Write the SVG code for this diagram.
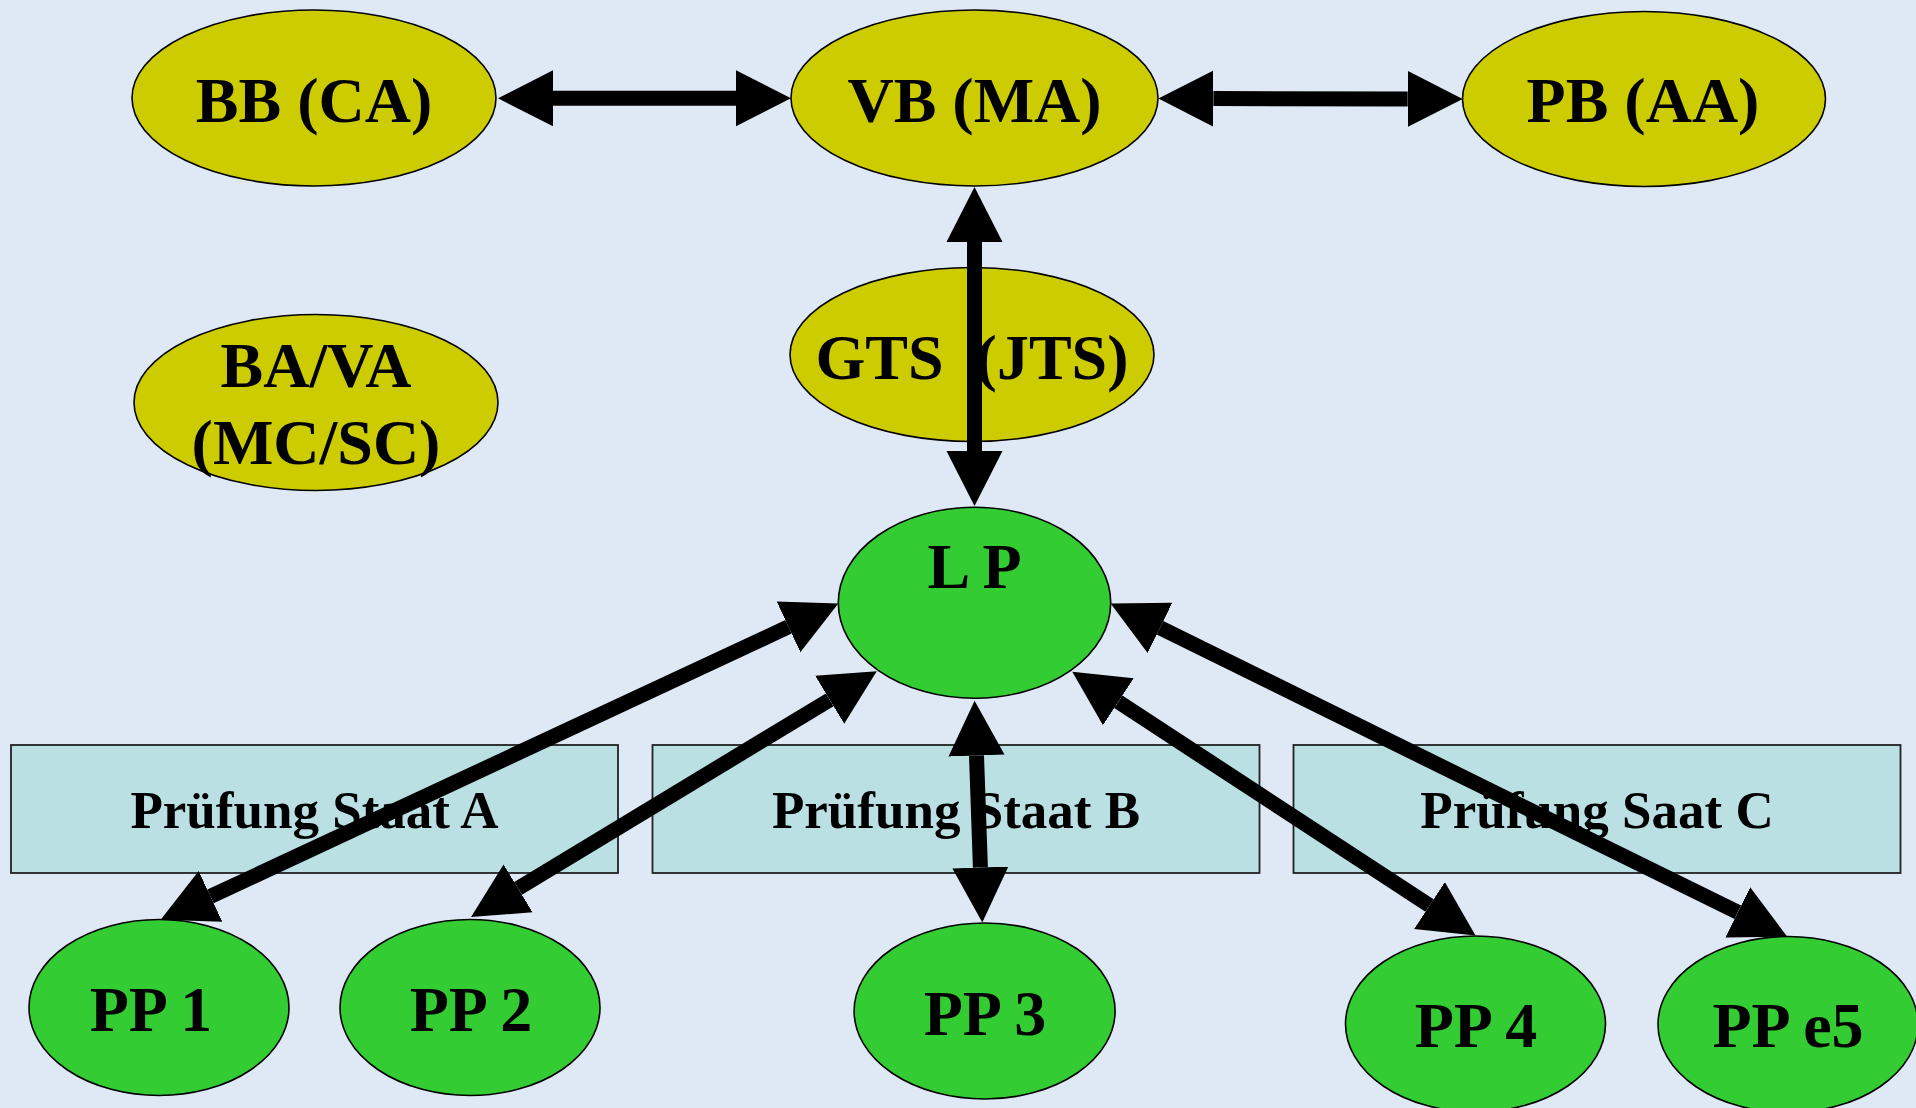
<svg xmlns="http://www.w3.org/2000/svg" width="1916" height="1108" viewBox="0 0 1916 1108">
<style>
  .bg { fill: #DFE9F5; }
  .yel { fill: #CCCC00; stroke: #000; stroke-width: 1.6; }
  .grn { fill: #33CC33; stroke: #000; stroke-width: 1.6; }
  .box { fill: #BBE0E3; stroke: #222; stroke-width: 1.8; }
  .t { font-family: "Liberation Serif", "Times New Roman", serif; font-weight: bold; font-size: 64px; fill: #000; text-anchor: middle; }
  .tb { font-family: "Liberation Serif", "Times New Roman", serif; font-weight: bold; font-size: 53px; fill: #000; text-anchor: middle; }
  .con { stroke: #000; stroke-width: 15; fill: none; marker-start: url(#ah); marker-end: url(#ah); }
</style>
<defs>
  <marker id="ah" markerUnits="userSpaceOnUse" markerWidth="60" markerHeight="60" viewBox="0 -30 60 60" refX="0" refY="0" orient="auto-start-reverse">
    <path d="M0,-28 L55,0 L0,28 Z" fill="#000"/>
  </marker>
</defs>
<rect class="bg" x="0" y="0" width="1916" height="1108"/>

<g id="node-bb">
  <ellipse class="yel" cx="314" cy="98" rx="182" ry="88"/>
  <text class="t" x="314" y="122">BB (CA)</text>
</g>
<g id="node-vb">
  <ellipse class="yel" cx="974.5" cy="98" rx="183.5" ry="88"/>
  <text class="t" x="974.5" y="122">VB (MA)</text>
</g>
<g id="node-pb">
  <ellipse class="yel" cx="1644" cy="99" rx="181.5" ry="87.5"/>
  <text class="t" x="1643" y="122">PB (AA)</text>
</g>
<g id="node-gts">
  <ellipse class="yel" cx="972" cy="354.5" rx="182" ry="87"/>
  <text class="t" x="972" y="379" xml:space="preserve" style="white-space:pre">GTS  (JTS)</text>
</g>
<g id="node-bava">
  <ellipse class="yel" cx="316" cy="402.5" rx="182" ry="88"/>
  <text class="t" x="316" y="387">BA/VA</text>
  <text class="t" x="316" y="464">(MC/SC)</text>
</g>
<g id="node-lp">
  <ellipse class="grn" cx="974.5" cy="602.8" rx="136.2" ry="95.5"/>
  <text class="t" x="974.5" y="588">L P</text>
</g>
<g id="node-staat-a">
  <rect class="box" x="11" y="745" width="607" height="128"/>
  <text class="tb" x="314.5" y="828">Prüfung Staat A</text>
</g>
<g id="node-staat-b">
  <rect class="box" x="652.5" y="745" width="607" height="128"/>
  <text class="tb" x="956" y="828">Prüfung Staat B</text>
</g>
<g id="node-staat-c">
  <rect class="box" x="1293.5" y="745" width="607" height="128"/>
  <text class="tb" x="1597" y="828">Prüfung Saat C</text>
</g>
<g id="node-pp1">
  <ellipse class="grn" cx="159" cy="1007.5" rx="130" ry="88"/>
  <text class="t" x="151" y="1031">PP 1</text>
</g>
<g id="node-pp2">
  <ellipse class="grn" cx="470" cy="1007.5" rx="130" ry="88"/>
  <text class="t" x="471" y="1031">PP 2</text>
</g>
<g id="node-pp3">
  <ellipse class="grn" cx="984.6" cy="1011" rx="130.5" ry="88"/>
  <text class="t" x="985" y="1034.5">PP 3</text>
</g>
<g id="node-pp4">
  <ellipse class="grn" cx="1475.5" cy="1024" rx="130" ry="88"/>
  <text class="t" x="1476" y="1047">PP 4</text>
</g>
<g id="node-pp5">
  <ellipse class="grn" cx="1788" cy="1024.5" rx="130" ry="88"/>
  <text class="t" x="1788" y="1047">PP e5</text>
</g>

<g id="connectors">
  <line class="con" x1="553" y1="98.3" x2="736" y2="98.3"/>
  <line class="con" x1="1213.4" y1="98.6" x2="1407.7" y2="98.9"/>
  <line class="con" x1="974.5" y1="242" x2="974.5" y2="451"/>
  <line class="con" x1="210.5" y1="896.4" x2="788.5" y2="626.8"/>
  <line class="con" x1="518.1" y1="888.4" x2="829.7" y2="699.8"/>
  <line class="con" x1="980.4" y1="867.5" x2="976.5" y2="755.6"/>
  <line class="con" x1="1429.5" y1="905.5" x2="1118.3" y2="701.8"/>
  <line class="con" x1="1737.8" y1="912.3" x2="1160" y2="627.8"/>
</g>
</svg>
